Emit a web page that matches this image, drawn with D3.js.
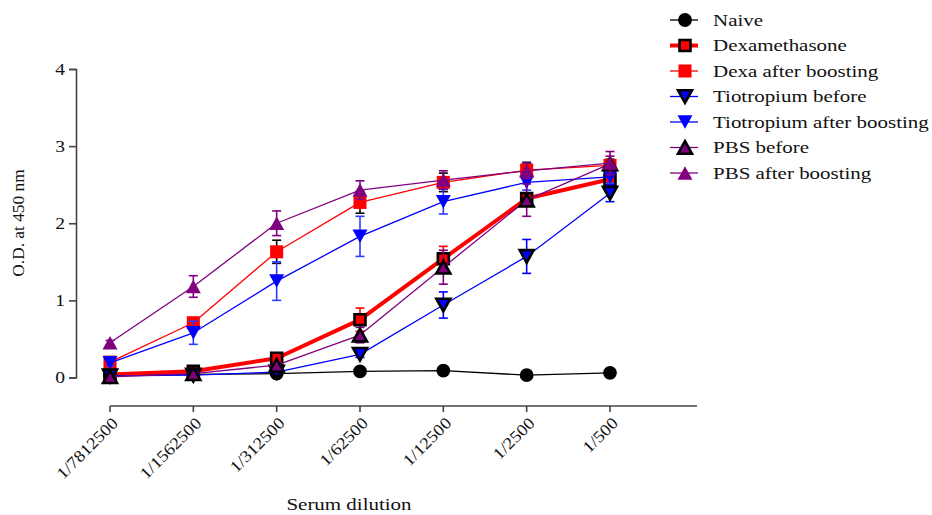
<!DOCTYPE html>
<html>
<head>
<meta charset="utf-8">
<script src="https://cdn.jsdelivr.net/npm/d3@7"></script>
<style>
  html, body { margin: 0; padding: 0; background: #fff; }
</style>
</head>
<body>
<svg id="chart" width="932" height="515"></svg>
<script>
// Serum dilutions on the x axis
const dilutions = ["1/7812500", "1/1562500", "1/312500", "1/62500", "1/12500", "1/2500", "1/500"];
const yTicks = [0, 1, 2, 3, 4];

// Mean O.D. at 450 nm for each group, and the SEM used for the error bars
const naive      = [0.03, 0.04, 0.05, 0.08, 0.09, 0.03, 0.06];
const naiveErr   = [0.01, 0.01, 0.01, 0.01, 0.05, 0.01, 0.01];
const dexa       = [0.04, 0.08, 0.25, 0.75, 1.54, 2.32, 2.57];
const dexaErr    = [0.02, 0.03, 0.04, 0.15, 0.16, 0.05, 0.05];
const dexaBoost  = [0.20, 0.71, 1.63, 2.27, 2.53, 2.69, 2.75];
const dexaBoostErr = [0.03, 0.05, 0.15, 0.14, 0.12, 0.10, 0.08];
const tioBefore  = [0.02, 0.03, 0.07, 0.30, 0.94, 1.57, 2.39];
const tioBeforeErr = [0.01, 0.02, 0.02, 0.04, 0.17, 0.22, 0.11];
const tioBoost   = [0.19, 0.58, 1.25, 1.83, 2.28, 2.53, 2.60];
const tioBoostErr = [0.04, 0.15, 0.25, 0.26, 0.16, 0.10, 0.08];
const pbsBefore  = [0.01, 0.05, 0.16, 0.55, 1.43, 2.30, 2.77];
const pbsBeforeErr = [0.01, 0.02, 0.03, 0.10, 0.22, 0.21, 0.10];
const pbsBoost   = [0.45, 1.18, 2.00, 2.43, 2.56, 2.68, 2.78];
const pbsBoostErr = [0.03, 0.14, 0.16, 0.12, 0.12, 0.10, 0.15];

const seriesNames = ["Naive", "Dexamethasone", "Dexa after boosting", "Tiotropium before",
                     "Tiotropium after boosting", "PBS before", "PBS after boosting"];

const series = [
  { name: seriesNames[0], values: naive,     err: naiveErr,     color: "#000000", line: 1.3, sym: d3.symbolCircle, size: 150, stroke: null,  errColor: "#000" },
  { name: seriesNames[1], values: dexa,      err: dexaErr,      color: "#ff0000", line: 4,   sym: d3.symbolSquare, size: 120, stroke: "#000", errColor: "#ff0000" },
  { name: seriesNames[2], values: dexaBoost, err: dexaBoostErr, color: "#ff0000", line: 1.3, sym: d3.symbolSquare, size: 170, stroke: null,  errColor: "#000" },
  { name: seriesNames[3], values: tioBefore, err: tioBeforeErr, color: "#0000ff", line: 1.3, sym: "down",          size: 14,  stroke: "#000", errColor: "#0000ff" },
  { name: seriesNames[4], values: tioBoost,  err: tioBoostErr,  color: "#0000ff", line: 1.3, sym: "down",          size: 15,  stroke: null,  errColor: "#2a3cff" },
  { name: seriesNames[5], values: pbsBefore, err: pbsBeforeErr, color: "#800080", line: 1.3, sym: "up",            size: 14,  stroke: "#000", errColor: "#800080" },
  { name: seriesNames[6], values: pbsBoost,  err: pbsBoostErr,  color: "#800080", line: 1.3, sym: "up",            size: 15,  stroke: null,  errColor: "#800080" }
];

const FONT = '"Liberation Serif"';
const svg = d3.select("#chart");
const stretch = 1.27; // the figure's lettering is set wide

const x = d3.scalePoint().domain(dilutions).range([110, 610]);
const y = d3.scaleLinear().domain([0, 4]).range([377.5, 69]);

function serif(sel, size) {
  sel.attr("font-family", null).style("font-family", FONT).style("font-size", size + "px").style("fill", "#111");
}
function widen(sel, factor) {
  const f = factor || stretch;
  sel.each(function () {
    const w = this.getComputedTextLength();
    d3.select(this).attr("textLength", w * f).attr("lengthAdjust", "spacingAndGlyphs");
  });
}

// Y axis
const yAxis = svg.append("g").attr("transform", "translate(76,0)")
  .call(d3.axisLeft(y).tickValues(yTicks).tickFormat(d3.format("d")).tickSize(7).tickPadding(4));
yAxis.attr("font-family", null).attr("font-size", null);
yAxis.select(".domain").attr("stroke", "#444").attr("stroke-width", 1.6);
yAxis.selectAll(".tick line").attr("stroke", "#444").attr("stroke-width", 1.6);
yAxis.selectAll(".tick text").call(serif, 17).call(widen, 1.15);

// X axis, set below the data
const xAxisY = 406;
const xg = svg.append("g").attr("transform", `translate(0,${xAxisY})`);
xg.append("line").attr("x1", x(dilutions[0])).attr("x2", 697).attr("y1", 0).attr("y2", 0)
  .attr("stroke", "#444").attr("stroke-width", 1.6);
xg.selectAll("line.tick").data(dilutions).enter().append("line")
  .attr("class", "tick")
  .attr("x1", d => x(d)).attr("x2", d => x(d)).attr("y1", 0).attr("y2", 6)
  .attr("stroke", "#444").attr("stroke-width", 1.6);
xg.selectAll("text.tl").data(dilutions).enter().append("text")
  .attr("class", "tl")
  .attr("text-anchor", "end")
  .attr("transform", d => `translate(${x(d) + 5},${14}) rotate(-45)`)
  .attr("dy", "0.35em")
  .text(d => d)
  .call(serif, 16.5)
  .call(widen, 1.12);

// Axis titles
svg.append("text").attr("text-anchor", "middle")
  .attr("transform", "translate(24,223) rotate(-90)")
  .text("O.D. at  450 nm").call(serif, 16.5).call(widen, 1.05);
svg.append("text").attr("text-anchor", "middle")
  .attr("x", 349).attr("y", 510)
  .text("Serum dilution").call(serif, 16.5).call(widen);

function markerPath(s) {
  if (s.sym === "up" || s.sym === "down") {
    const w = s.size, h = s.size * 0.9;
    const dir = s.sym === "up" ? 1 : -1;
    return `M${-w / 2},${dir * h / 2}L${w / 2},${dir * h / 2}L0,${-dir * h / 2}Z`;
  }
  return d3.symbol().type(s.sym).size(s.size)();
}

const line = d3.line().x((d, i) => x(dilutions[i])).y(d => y(d));
const plot = svg.append("g");

series.forEach(s => {
  const g = plot.append("g");
  g.append("path").datum(s.values)
    .attr("d", line).attr("fill", "none")
    .attr("stroke", s.color).attr("stroke-width", s.line).attr("stroke-linejoin", "round");

  // error bars (mean ± SEM)
  const eb = g.selectAll("g.eb").data(s.values).enter().append("g")
    .attr("stroke", s.errColor).attr("stroke-width", 1.6);
  eb.append("line")
    .attr("x1", (d, i) => x(dilutions[i])).attr("x2", (d, i) => x(dilutions[i]))
    .attr("y1", (d, i) => y(d + s.err[i])).attr("y2", (d, i) => y(d - s.err[i]));
  eb.append("line")
    .attr("x1", (d, i) => x(dilutions[i]) - 4.5).attr("x2", (d, i) => x(dilutions[i]) + 4.5)
    .attr("y1", (d, i) => y(d + s.err[i])).attr("y2", (d, i) => y(d + s.err[i]));
  eb.append("line")
    .attr("x1", (d, i) => x(dilutions[i]) - 4.5).attr("x2", (d, i) => x(dilutions[i]) + 4.5)
    .attr("y1", (d, i) => y(d - s.err[i])).attr("y2", (d, i) => y(d - s.err[i]));

  // markers
  g.selectAll("path.pt").data(s.values).enter().append("path")
    .attr("class", "pt")
    .attr("d", markerPath(s))
    .attr("transform", (d, i) => `translate(${x(dilutions[i])},${y(d)})`)
    .attr("fill", s.color)
    .attr("stroke", s.stroke || "none")
    .attr("stroke-width", s.stroke ? 2.6 : 0);
});

// Legend
const legend = svg.append("g").attr("transform", "translate(670,20)");
series.forEach((s, i) => {
  const row = legend.append("g").attr("transform", `translate(0,${i * 25.5})`);
  row.append("line").attr("x1", 0).attr("x2", 28).attr("y1", 0).attr("y2", 0)
    .attr("stroke", s.color).attr("stroke-width", s.line);
  row.append("path").attr("d", markerPath(s))
    .attr("transform", "translate(15,0)")
    .attr("fill", s.color)
    .attr("stroke", s.stroke || "none")
    .attr("stroke-width", s.stroke ? 2.6 : 0);
  row.append("text").attr("x", 43).attr("y", 0).attr("dy", "0.35em")
    .text(s.name).call(serif, 16.5).call(widen);
});
</script>
</body>
</html>
